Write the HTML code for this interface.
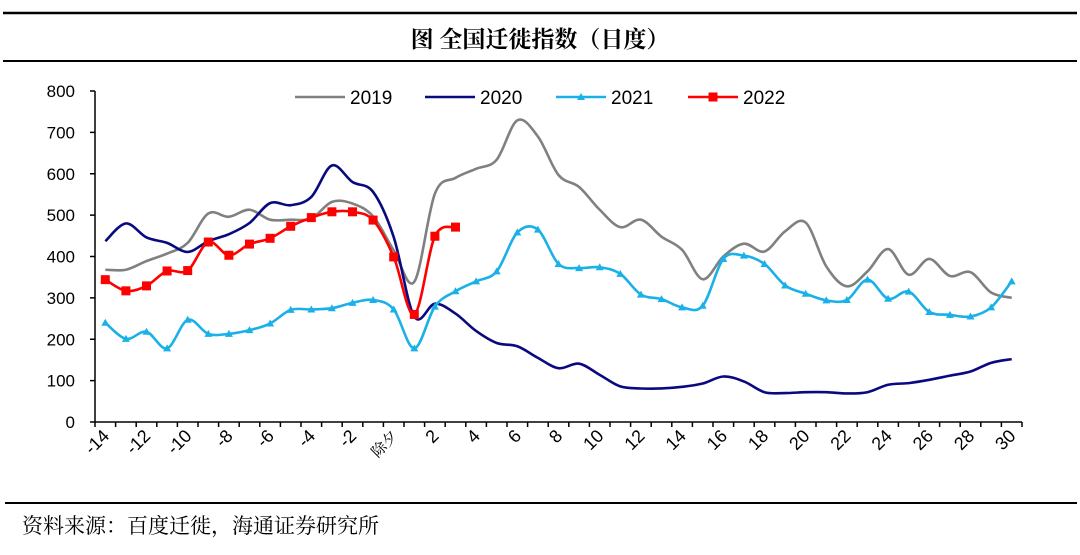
<!DOCTYPE html>
<html><head><meta charset="utf-8">
<style>
html,body{margin:0;padding:0;background:#fff;width:1080px;height:555px;overflow:hidden}
svg{display:block}
</style></head>
<body>
<svg id="chart" width="1080" height="555" xmlns="http://www.w3.org/2000/svg" font-family="Liberation Sans, Noto Sans CJK SC, sans-serif">
<line x1="3" y1="13" x2="1077" y2="13" stroke="#000" stroke-width="2.5"/>
<text x="540" y="47" text-anchor="middle" font-size="23" font-weight="bold" font-family="Noto Serif CJK SC, serif">图  全国迁徙指数（日度）</text>
<line x1="3" y1="61" x2="1077" y2="61" stroke="#000" stroke-width="2"/>
<line x1="5" y1="503" x2="1077" y2="503" stroke="#000" stroke-width="2"/>
<text x="22" y="533" font-size="21" font-family="Noto Serif CJK SC, serif">资料来源：百度迁徙，海通证券研究所</text>
<g id="plot"></g>
</svg>
<script>
const categories = ["-14","-13","-12","-11","-10","-9","-8","-7","-6","-5","-4","-3","-2","-1","除夕","1","2","3","4","5","6","7","8","9","10","11","12","13","14","15","16","17","18","19","20","21","22","23","24","25","26","27","28","29","30"];
const s2019 = [368,368,389,407,433,504,496,513,489,489,492,532,528,497,415,339,552,590,612,634,729,690,597,568,513,471,489,448,416,345,400,431,412,461,482,376,328,364,418,356,394,353,362,313,300];
const s2020 = [437,480,446,433,411,437,454,481,529,524,544,620,580,556,447,255,286,262,220,191,183,155,130,141,114,86,81,81,85,93,110,98,72,70,72,72,69,72,90,94,102,112,122,143,152];
const s2021 = [240,201,218,178,247,213,213,222,238,271,272,275,288,295,272,178,279,316,340,364,458,465,382,372,374,358,308,297,277,281,394,402,382,330,310,294,295,344,298,315,266,259,255,277,340];
const s2022 = [344,317,329,365,366,435,403,430,444,473,494,508,508,488,399,260,449,471];
const yTicks = [0,100,200,300,400,500,600,700,800];
const seriesNames = ["2019","2020","2021","2022"];

const NS="http://www.w3.org/2000/svg";
const g=document.getElementById('plot');
const X0=95,X1=1022,Y0=422,Y1=91,YMAX=800;
const bw=(X1-X0)/categories.length;
function xs(i){return X0+bw*(i+0.5);}
function ys(v){return Y0-(v/YMAX)*(Y0-Y1);}
function el(t,a){const e=document.createElementNS(NS,t);for(const k in a)e.setAttribute(k,a[k]);g.appendChild(e);return e;}
function smooth(pts){
  let d=`M${pts[0][0]},${pts[0][1]}`;
  for(let i=0;i<pts.length-1;i++){
    const p0=pts[i-1]||pts[i],p1=pts[i],p2=pts[i+1],p3=pts[i+2]||p2,t=6;
    d+=` C${p1[0]+(p2[0]-p0[0])/t},${p1[1]+(p2[1]-p0[1])/t} ${p2[0]-(p3[0]-p1[0])/t},${p2[1]-(p3[1]-p1[1])/t} ${p2[0]},${p2[1]}`;
  }
  return d;
}
let a=el('line',{x1:X0,y1:Y1,x2:X0,y2:Y0,stroke:'#000','stroke-width':1.5});


yTicks.forEach(v=>{
  const y=ys(v);
  const t=el('line',{x1:X0-5,y1:y,x2:X0,y2:y,stroke:'#000','stroke-width':1.5});
  
  
  const l=el('text',{x:75,y:y+6,'text-anchor':'end','font-size':17});
  l.textContent=v;
  
  
});
a=el('line',{x1:X0,y1:Y0,x2:X1,y2:Y0,stroke:'#000','stroke-width':1.5});


for(let i=0;i<=categories.length;i++){
  const x=X0+bw*i;
  const t=el('line',{x1:x,y1:Y0,x2:x,y2:Y0+5,stroke:'#000','stroke-width':1.5});
  
  
}
categories.forEach((c,i)=>{
  if(i%2)return;
  const x=xs(i)+5,y=Y0+15;
  const l=el('text',{x:x,y:y,'text-anchor':'end','font-size':c==='除夕'?15:18,transform:`rotate(-45 ${x} ${y})`});
  if(c==='除夕'){l.setAttribute('font-family','Noto Serif CJK SC, serif');}
  l.textContent=c;
  
  
});
const colors=['#808080','#0a0a80','#1ab0e8','#ff0000'];
const data=[s2019,s2020,s2021,s2022];
data.forEach((s,k)=>{
  const pts=s.map((v,i)=>[xs(i),ys(v)]);
  const p=el('path',{d:smooth(pts),fill:'none',stroke:colors[k],'stroke-width':2.6,'stroke-linejoin':'round'});
  
  
  if(k===2){pts.forEach(q=>{
    const m=el('path',{d:`M${q[0]},${q[1]-4}L${q[0]+4},${q[1]+3}L${q[0]-4},${q[1]+3}Z`,fill:colors[k]});
    
    
  });}
  if(k===3){pts.forEach(q=>{
    const m=el('rect',{x:q[0]-4.5,y:q[1]-4.5,width:9,height:9,fill:colors[k]});
    
    
  });}
});
const lx=[295,425,556,688];
seriesNames.forEach((n,k)=>{
  const y=97;
  const ln=el('line',{x1:lx[k],y1:y,x2:lx[k]+50,y2:y,stroke:colors[k],'stroke-width':2.6});
  
  
  if(k===2){const m=el('path',{d:`M${lx[k]+25},${y-4}L${lx[k]+29},${y+3}L${lx[k]+21},${y+3}Z`,fill:colors[k]});
    
    }
  if(k===3){const m=el('rect',{x:lx[k]+20.5,y:y-4.5,width:9,height:9,fill:colors[k]});
    
    }
  const t=el('text',{x:lx[k]+55,y:y+7,'font-size':19});
  t.textContent=n;
  
  
});
</script>
</body></html>
